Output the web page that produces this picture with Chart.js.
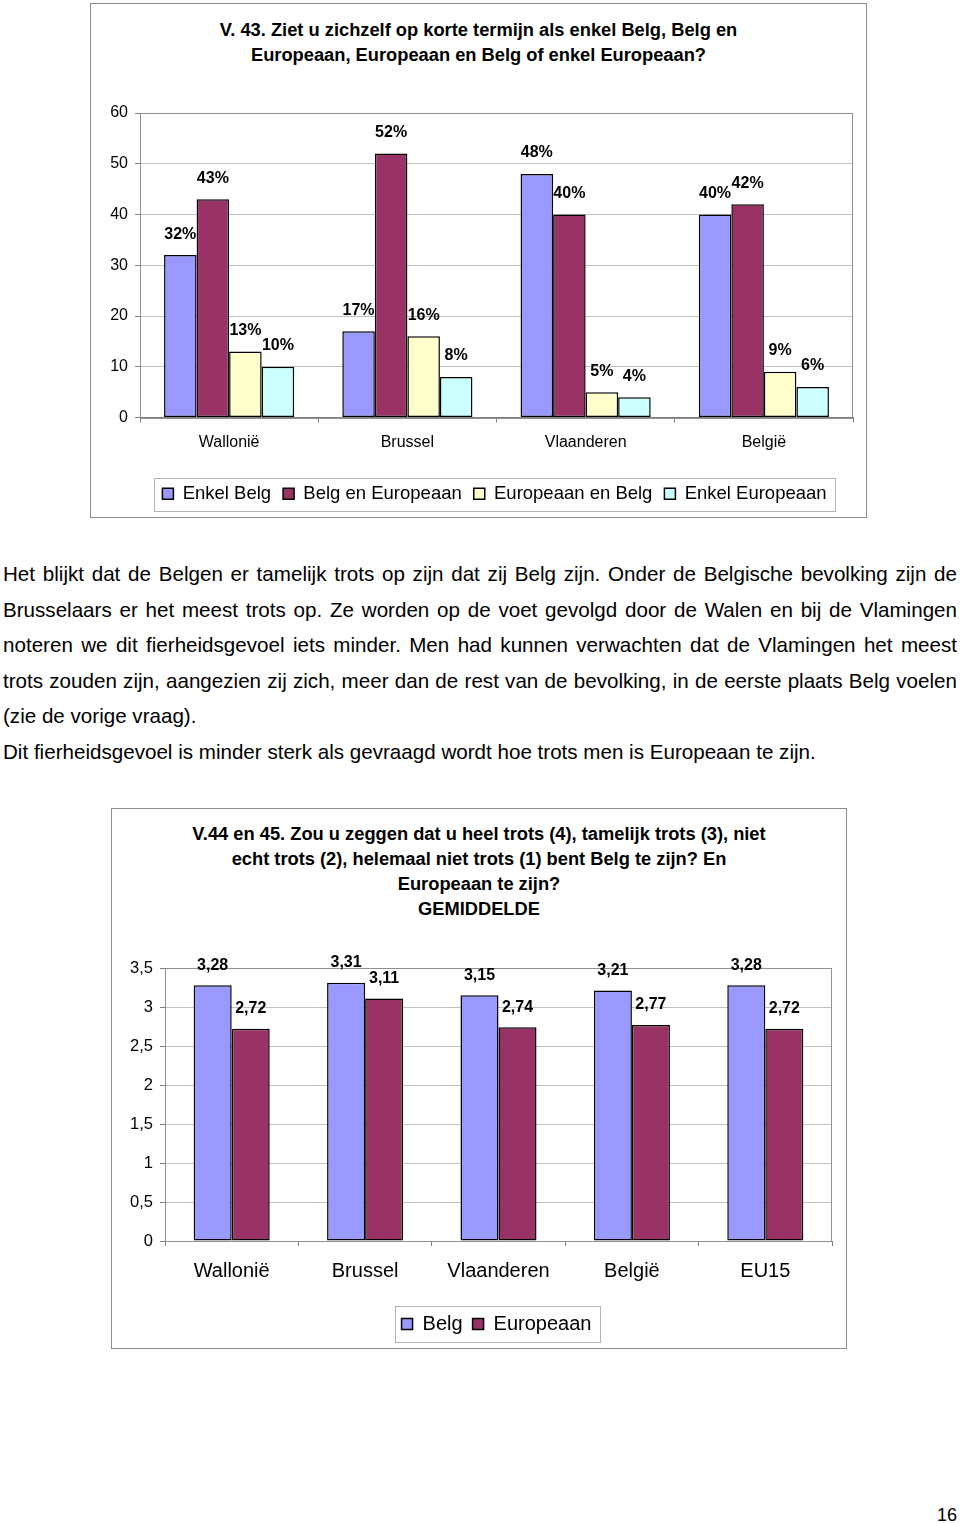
<!DOCTYPE html>
<html><head><meta charset="utf-8">
<script src="https://cdn.jsdelivr.net/npm/chart.js@4.4.1/dist/chart.umd.min.js"></script>
<style>
html,body{margin:0;padding:0;background:#fff;}
body{width:960px;height:1523px;position:relative;overflow:hidden;font-family:"Liberation Sans",Arial,sans-serif;color:#000;}
.box{position:absolute;border:1px solid #8c8c8c;box-sizing:border-box;}
.title{position:absolute;text-align:center;font-weight:bold;font-size:18.3px;line-height:25px;}
.title span{display:inline-block;white-space:nowrap;}
canvas{position:absolute;}
.para{position:absolute;left:3px;width:954px;font-size:20.6px;line-height:35.6px;}
.para div{white-space:nowrap;}
.para .j{text-align:justify;text-align-last:justify;}
.pn{position:absolute;left:937px;top:1503px;font-size:18px;line-height:24px;}
</style></head>
<body>
<div class="box" style="left:90px;top:3px;width:777px;height:515px;"></div>
<div class="title" style="left:90px;width:777px;top:16.5px;">
<span>V. 43. Ziet u zichzelf op korte termijn als enkel Belg, Belg en</span><br>
<span>Europeaan, Europeaan en Belg of enkel Europeaan?</span>
</div>
<canvas id="c1" width="776" height="415" style="left:90px;top:100px;"></canvas>

<div class="para" style="top:556px;">
<div class="j">Het blijkt dat de Belgen er tamelijk trots op zijn dat zij Belg zijn. Onder de Belgische bevolking zijn de</div>
<div class="j">Brusselaars er het meest trots op. Ze worden op de voet gevolgd door de Walen en bij de Vlamingen</div>
<div class="j">noteren we dit fierheidsgevoel iets minder. Men had kunnen verwachten dat de Vlamingen het meest</div>
<div class="j">trots zouden zijn, aangezien zij zich, meer dan de rest van de bevolking, in de eerste plaats Belg voelen</div>
<div>(zie de vorige vraag).</div>
<div>Dit fierheidsgevoel is minder sterk als gevraagd wordt hoe trots men is Europeaan te zijn.</div>
</div>

<div class="box" style="left:111px;top:808px;width:736px;height:541px;"></div>
<div class="title" style="left:111px;width:736px;top:820.5px;">
<span>V.44 en 45. Zou u zeggen dat u heel trots (4), tamelijk trots (3), niet</span><br>
<span>echt trots (2), helemaal niet trots (1) bent Belg te zijn? En</span><br>
<span>Europeaan te zijn?</span><br>
<span>GEMIDDELDE</span>
</div>
<canvas id="c2" width="735" height="406" style="left:111px;top:940px;"></canvas>

<div class="pn">16</div>

<script>
// ---- Chart 1 data ----
const categories1 = ['Wallonië', 'Brussel', 'Vlaanderen', 'België'];
const seriesNames1 = ['Enkel Belg', 'Belg en Europeaan', 'Europeaan en Belg', 'Enkel Europeaan'];
const enkelBelg = [32, 17, 48, 40];
const belgEnEuropeaan = [43, 52, 40, 42];
const europeaanEnBelg = [13, 16, 5, 9];
const enkelEuropeaan = [10, 8, 4, 6];
const yTicks1 = [0, 10, 20, 30, 40, 50, 60];

// ---- Chart 2 data ----
const categories2 = ['Wallonië', 'Brussel', 'Vlaanderen', 'België', 'EU15'];
const seriesNames2 = ['Belg', 'Europeaan'];
const belg = [3.28, 3.31, 3.15, 3.21, 3.28];
const europeaan = [2.72, 3.11, 2.74, 2.77, 2.72];
const yTicks2 = [0, 0.5, 1, 1.5, 2, 2.5, 3, 3.5];

const colors1 = ['#9999FF', '#993366', '#FFFFCC', '#CCFFFF'];
const colors2 = ['#9999FF', '#993366'];
const FONT = '"Liberation Sans", Arial, sans-serif';

function plotBorder(color) {
  return { id: 'plotBorder', beforeDatasetsDraw(chart) {
    const { ctx, chartArea: a } = chart;
    ctx.save(); ctx.strokeStyle = color; ctx.lineWidth = 1;
    ctx.strokeRect(Math.round(a.left) + 0.5, Math.round(a.top) + 0.5, Math.round(a.right - a.left) - 1, Math.round(a.bottom - a.top));
    ctx.restore();
  }};
}
function valueLabels(font, offset, fmt) {
  return { id: 'valueLabels', afterDatasetsDraw(chart) {
    const ctx = chart.ctx; ctx.save();
    ctx.font = font; ctx.fillStyle = '#000'; ctx.textAlign = 'center'; ctx.textBaseline = 'middle';
    chart.data.datasets.forEach((ds, i) => {
      chart.getDatasetMeta(i).data.forEach((el, j) => ctx.fillText(fmt(ds.data[j]), el.x, el.y - offset));
    });
    ctx.restore();
  }};
}
// centre the legend items at a given x (canvas coords) and frame them
function legendBox(centerX, padL, padR, padT, h) {
  return {
    id: 'legendBox',
    afterUpdate(chart) {
      const lg = chart.legend, hb = lg.legendHitBoxes; if (!hb || !hb.length) return;
      let l = Infinity, r = -Infinity;
      hb.forEach(b => { l = Math.min(l, b.left); r = Math.max(r, b.left + b.width); });
      const dx = centerX - (l + r) / 2;
      lg.left += dx; lg.right += dx;
      hb.forEach(b => { b.left += dx; });
    },
    afterDraw(chart) {
      const hb = chart.legend.legendHitBoxes; if (!hb || !hb.length) return;
      let l = Infinity, r = -Infinity, t = hb[0].top;
      hb.forEach(b => { l = Math.min(l, b.left); r = Math.max(r, b.left + b.width); });
      const ctx = chart.ctx; ctx.save(); ctx.strokeStyle = '#b4b4b4'; ctx.lineWidth = 1;
      ctx.strokeRect(Math.round(l - padL) + 0.5, Math.round(t - padT) + 0.5, Math.round(r - l + padL + padR), h);
      ctx.restore();
    }
  };
}

function makeDatasets(names, arrays, colors) {
  return names.map((n, i) => ({
    label: n, data: arrays[i], backgroundColor: colors[i], borderColor: '#000',
    borderWidth: 1.5, borderSkipped: false
  }));
}

function commonScales(cfg) {
  return {
    x: {
      afterFit: s => { s.height = cfg.xh; },
      grid: { display: true, drawOnChartArea: false, drawTicks: true, tickLength: 5, tickColor: '#808080', offset: true },
      border: { display: true, color: '#808080', width: 1 },
      ticks: { font: { family: FONT, size: cfg.xFont }, color: '#000', padding: cfg.xPad, maxRotation: 0, autoSkip: false }
    },
    y: {
      min: 0, max: cfg.max,
      afterFit: s => { s.width = 40; s.paddingTop = 0; s.paddingBottom = 0; },
      afterBuildTicks: s => { s.ticks = cfg.ticks.map(v => ({ value: v })); },
      grid: { color: '#c0c0c0', lineWidth: 1, drawTicks: true, tickLength: 5, tickColor: '#808080' },
      border: { display: true, color: '#808080', width: 1 },
      ticks: { font: { family: FONT, size: cfg.yFont }, color: '#000', padding: 7, autoSkip: false,
        callback: v => String(v).replace('.', ',') }
    }
  };
}

new Chart(document.getElementById('c1'), {
  type: 'bar',
  data: { labels: categories1, datasets: makeDatasets(seriesNames1, [enkelBelg, belgEnEuropeaan, europeaanEnBelg, enkelEuropeaan], colors1) },
  options: {
    responsive: false, animation: false, devicePixelRatio: 1,
    datasets: { bar: { categoryPercentage: 0.73, barPercentage: 1 } },
    layout: { padding: { top: 13, right: 13, left: 10, bottom: 2 } },
    scales: commonScales({ xh: 55, xFont: 16, xPad: 10, max: 60, ticks: yTicks1, yFont: 16 }),
    plugins: {
      legend: { position: 'bottom', labels: { boxWidth: 11, boxHeight: 11, padding: 12, color: '#000', font: { family: FONT, size: 18.5 } } },
      tooltip: { enabled: false }, title: { display: false }
    }
  },
  plugins: [plotBorder('#909090'), valueLabels('bold 16px ' + FONT, 21, v => v + '%'), legendBox(404.5, 8, 9, 7, 33)]
});

new Chart(document.getElementById('c2'), {
  type: 'bar',
  data: { labels: categories2, datasets: makeDatasets(seriesNames2, [belg, europeaan], colors2) },
  options: {
    responsive: false, animation: false, devicePixelRatio: 1,
    datasets: { bar: { categoryPercentage: 0.57, barPercentage: 1 } },
    layout: { padding: { top: 28, right: 14, left: 14, bottom: 2 } },
    scales: commonScales({ xh: 63, xFont: 20, xPad: 13, max: 3.5, ticks: yTicks2, yFont: 16.5 }),
    plugins: {
      legend: { position: 'bottom', labels: { boxWidth: 11, boxHeight: 11, padding: 10, color: '#000', font: { family: FONT, size: 20 } } },
      tooltip: { enabled: false }, title: { display: false }
    }
  },
  plugins: [plotBorder('#909090'), valueLabels('bold 16px ' + FONT, 20, v => v.toFixed(2).replace('.', ',')), legendBox(385.5, 7, 8, 8, 36)]
});
</script>
</body></html>
